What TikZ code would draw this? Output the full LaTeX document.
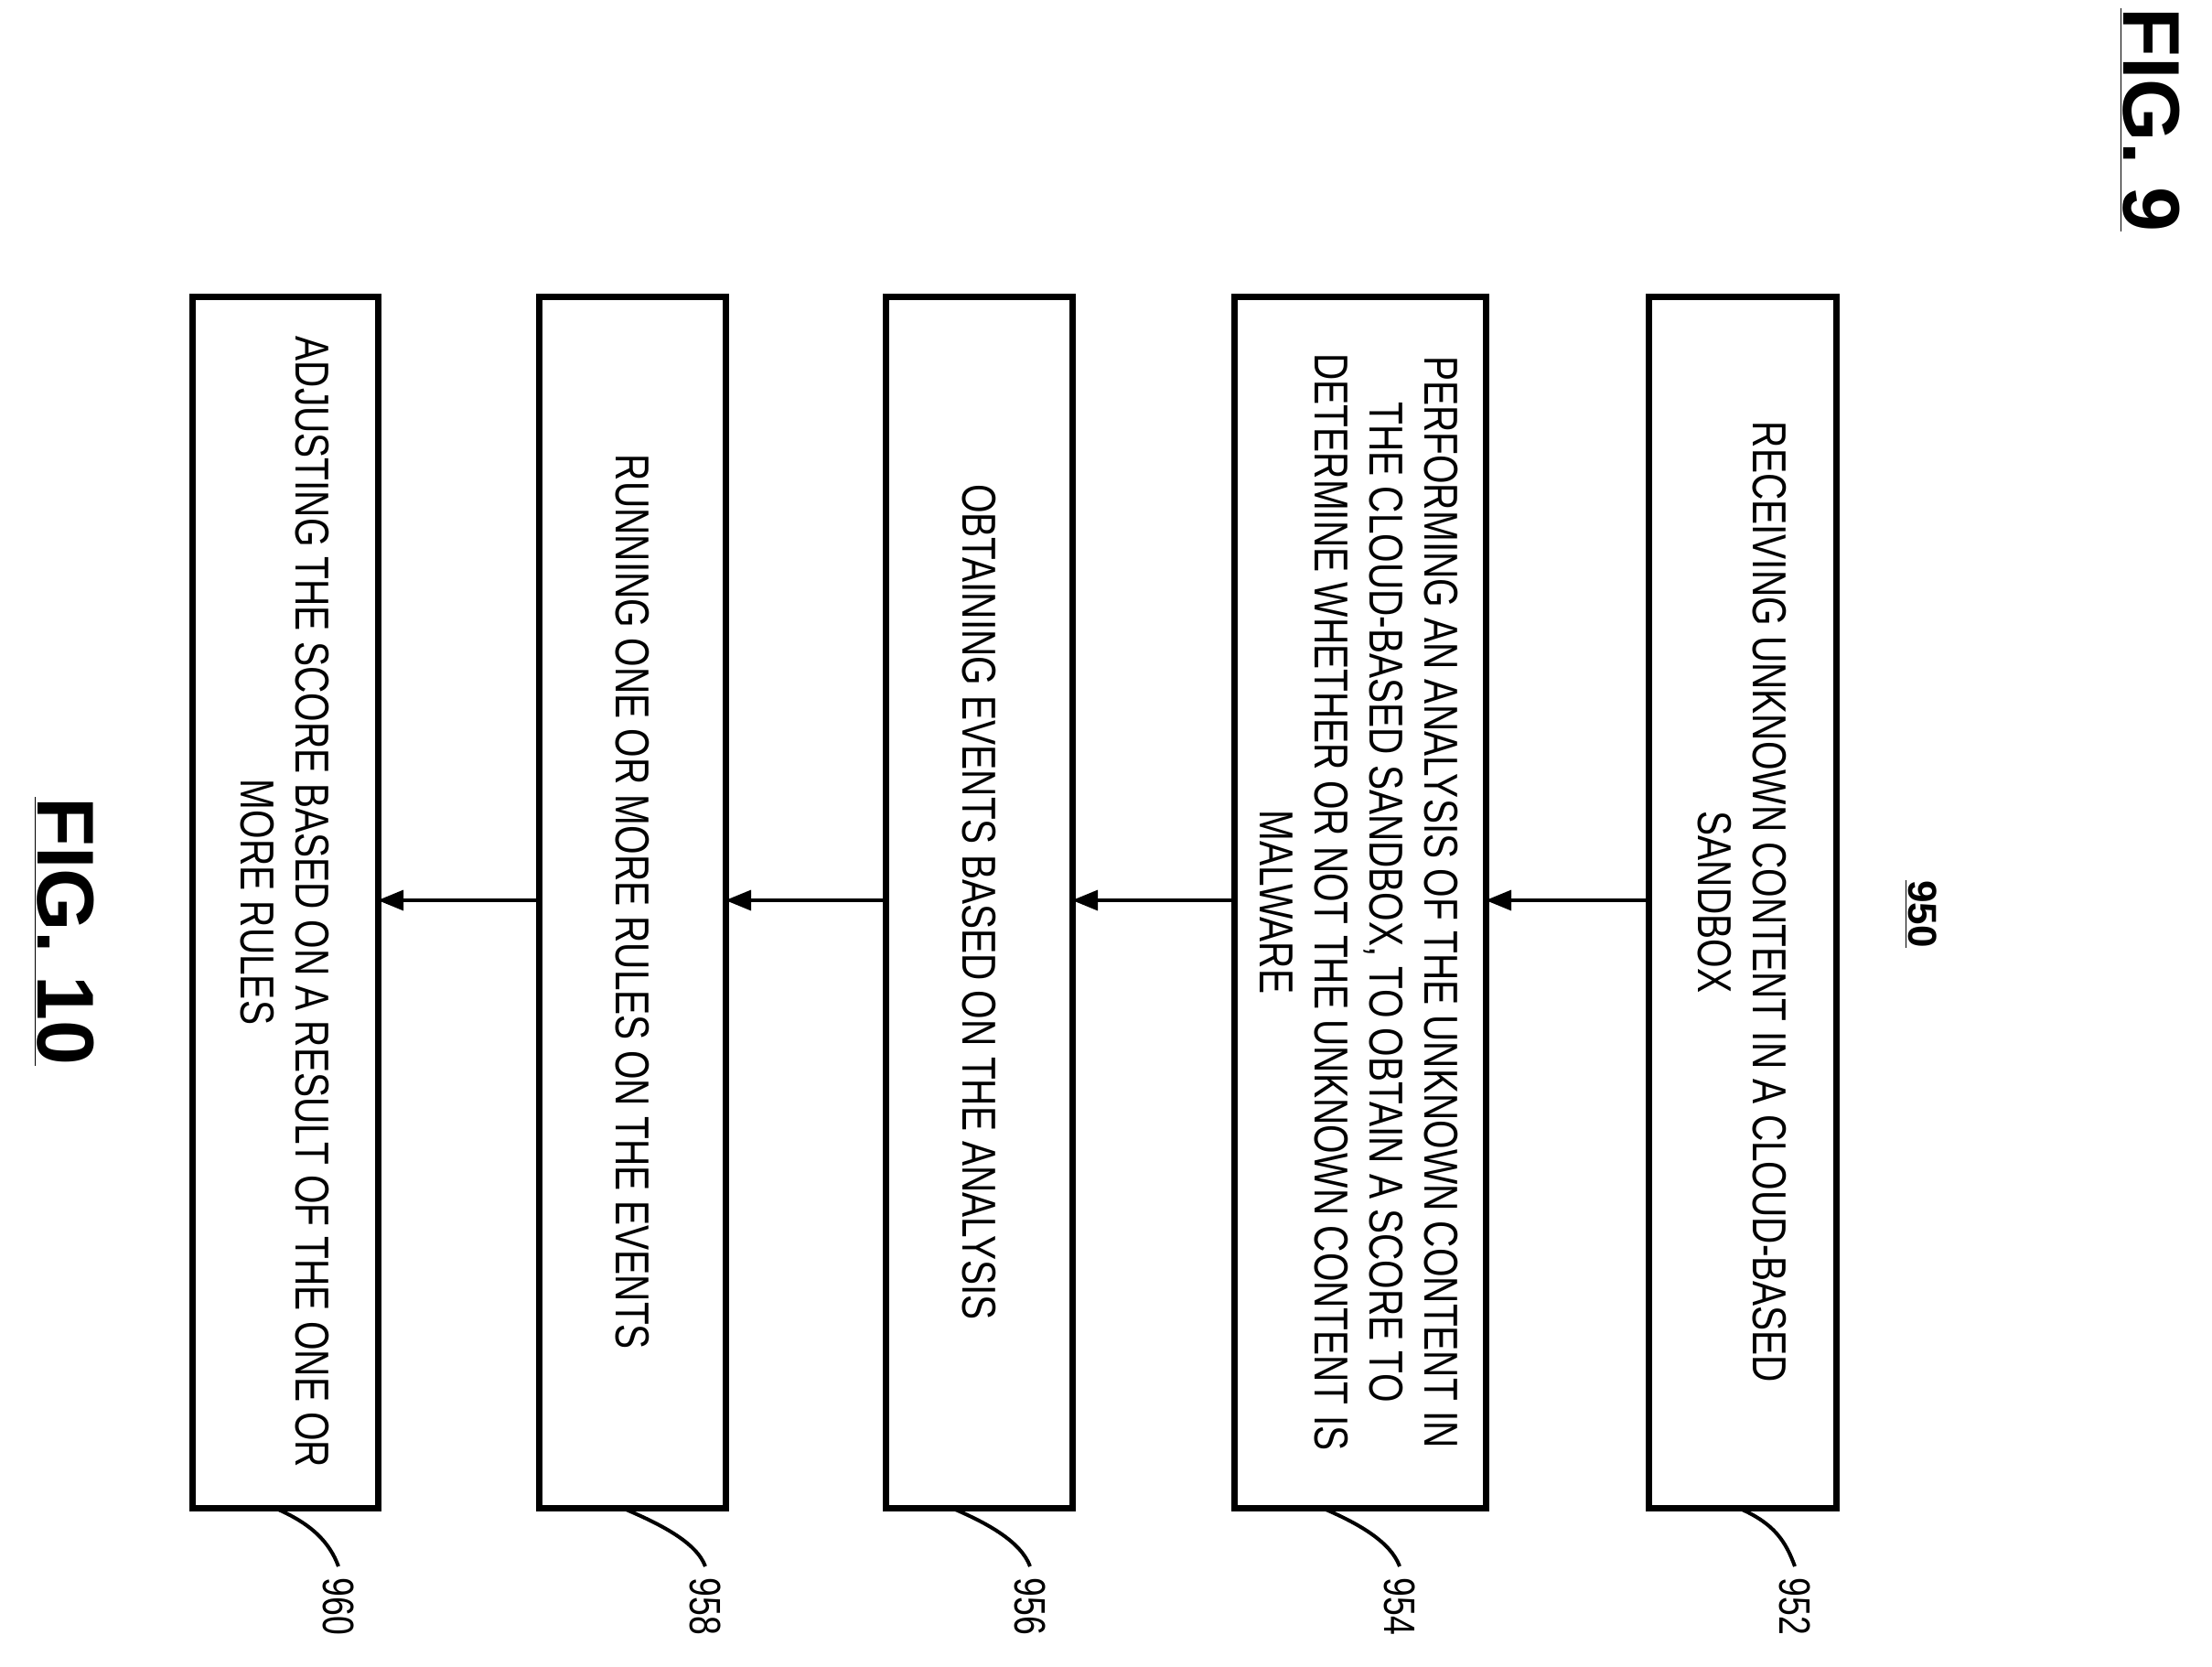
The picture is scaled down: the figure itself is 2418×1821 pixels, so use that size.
\documentclass[tikz,border=0pt]{standalone}
\usepackage{fontspec}
\setmainfont{Liberation Sans}
\newfontfamily\boxfont[FakeStretch=0.78]{Liberation Sans}
\usetikzlibrary{arrows.meta}
\tikzset{
  step/.style={draw,line width=3.5pt,minimum width=640pt,inner sep=0pt},
  steptext/.style={rotate=-90,align=center,font=\boxfont\fontsize{26}{30}\selectfont},
  flow/.style={line width=1.6pt,-{Triangle[length=14pt,width=11pt]}},
  refnum/.style={rotate=-90,font=\boxfont\fontsize{24}{28}\selectfont,inner sep=0pt},
  leader/.style={line width=2pt}
}
\begin{document}
\begin{tikzpicture}[x=0.5pt,y=-0.5pt]
\path[use as bounding box] (0,0) rectangle (2418,1821);
% boxes
\draw[line width=3.5pt] (1802,324) rectangle (2007,1648);
\draw[line width=3.5pt] (1349,324) rectangle (1624,1648);
\draw[line width=3.5pt] (968,324) rectangle (1172,1648);
\draw[line width=3.5pt] (589,324) rectangle (793,1648);
\draw[line width=3.5pt] (210,324) rectangle (413,1648);
\coordinate (b952) at (1802,984);
\coordinate (b954r) at (1624,984);
\coordinate (b954) at (1349,984);
\coordinate (b956r) at (1172,984);
\coordinate (b956) at (968,984);
\coordinate (b958r) at (793,984);
\coordinate (b958) at (589,984);
\coordinate (b960r) at (413,984);
\node[steptext] (t952) at (1904,986) {RECEIVING UNKNOWN CONTENT IN A CLOUD-BASED\\SANDBOX};
\node[steptext] (t954) at (1486,986) {PERFORMING AN ANALYSIS OF THE UNKNOWN CONTENT IN\\THE CLOUD-BASED SANDBOX, TO OBTAIN A SCORE TO\\DETERMINE WHETHER OR NOT THE UNKNOWN CONTENT IS\\MALWARE};
\node[steptext] (t956) at (1070,986) {OBTAINING EVENTS BASED ON THE ANALYSIS};
\node[steptext] (t958) at (691,986) {RUNNING ONE OR MORE RULES ON THE EVENTS};
\node[steptext] (t960) at (311,986) {ADJUSTING THE SCORE BASED ON A RESULT OF THE ONE OR\\MORE RULES};
% arrows
\draw[flow] (b952) -- (b954r);
\draw[flow] (b954) -- (b956r);
\draw[flow] (b956) -- (b958r);
\draw[flow] (b958) -- (b960r);
% reference numerals
\foreach \n/\cx/\lx in {952/1900/1962, 954/1445/1530, 956/1040/1126, 958/680/771, 960/300/370}{
  \draw[leader] (\cx,1648) .. controls (\cx+40,1665) and (\lx-10,1685) .. (\lx,1712);
  \node[refnum] (r\n) at (\lx,1756) {\n};
}
\node[rotate=-90,font=\bfseries\fontsize{22}{26}\selectfont] (n950) at (2100,999) {\underline{950}};
\node[rotate=-90,font=\bfseries\fontsize{44}{50}\selectfont] (fig9) at (2350,131) {\underline{FIG. 9}};
\node[rotate=-90,font=\bfseries\fontsize{44}{50}\selectfont] (fig10) at (70,1018) {\underline{FIG. 10}};
\end{tikzpicture}
\end{document}
